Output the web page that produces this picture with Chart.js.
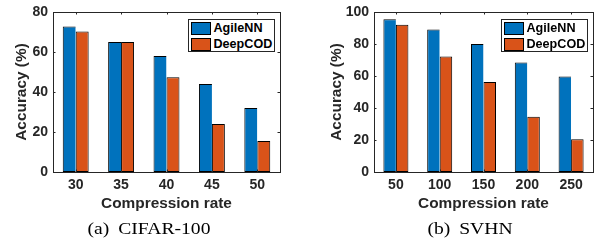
<!DOCTYPE html>
<html><head><meta charset="utf-8">
<script src="https://cdn.jsdelivr.net/npm/chart.js@4/dist/chart.umd.min.js"></script>
<style>
html,body{margin:0;padding:0;background:#fff;}
body{width:609px;height:250px;position:relative;overflow:hidden;}
canvas{position:absolute;top:0;}
#c1{left:0;}
#c2{left:305px;}
.legend{position:absolute;border:1px solid #262626;background:#fff;box-sizing:border-box;
  font:bold 12.6px "Liberation Sans",Arial,Helvetica,sans-serif;color:#000;}
.legend .row{position:absolute;left:2px;height:13px;white-space:nowrap;}
.legend .sw{position:absolute;left:0;top:0;width:20px;height:13px;box-sizing:border-box;border:1px solid #000;}
.legend .lb{position:absolute;left:23px;top:-1px;line-height:15px;}
.cap{position:absolute;top:218px;font:17.5px "Liberation Serif","Times New Roman",serif;color:#000;white-space:nowrap;transform:translateX(-50%) scaleX(1.12);line-height:20px;}
.cap span.t{margin-left:8px;}
</style></head>
<body>
<canvas id="c1" width="305" height="250"></canvas>
<canvas id="c2" width="304" height="250"></canvas>
<div class="cap" style="left:149px">(a)<span class="t">CIFAR-100</span></div>
<div class="cap" style="left:470px">(b)<span class="t">SVHN</span></div>
<script>
// ---- data ----
const seriesNames = ['AgileNN', 'DeepCOD'];
const seriesColors = ['#0072BD', '#D95319'];
const cifarRates = ['30', '35', '40', '45', '50'];
const cifarAgile = [72.8, 65, 58, 44, 32];
const cifarDeep = [70.3, 65, 47.4, 24, 15.5];
const cifarTicks = [0, 20, 40, 60, 80];
const svhnRates = ['50', '100', '150', '200', '250'];
const svhnAgile = [95.5, 89, 80, 68.4, 59.7];
const svhnDeep = [92, 72.2, 56.2, 34.5, 20.5];
const svhnTicks = [0, 20, 40, 60, 80, 100];
const xTitle = 'Compression rate';
const yTitle = 'Accuracy (%)';

const FAM = '"Liberation Sans", Arial, Helvetica, sans-serif';
const INK = '#262626';

const boxTicks = {
  id: 'boxTicks',
  afterDatasetsDraw(chart) {
    const {ctx, chartArea: a, scales: {x, y}} = chart;
    const L = 2.5;
    ctx.save();
    ctx.strokeStyle = INK; ctx.lineWidth = 1;
    ctx.beginPath();
    y.ticks.forEach((t, i) => {
      const py = Math.round(y.getPixelForTick(i)) + 0.5;
      ctx.moveTo(a.left, py); ctx.lineTo(a.left + L, py);
      ctx.moveTo(a.right, py); ctx.lineTo(a.right - L, py);
    });
    x.ticks.forEach((t, i) => {
      const px = Math.round(x.getPixelForTick(i)) + 0.5;
      ctx.moveTo(px, a.bottom); ctx.lineTo(px, a.bottom - L);
      ctx.moveTo(px, a.top); ctx.lineTo(px, a.top + L);
    });
    ctx.stroke();
    ctx.strokeRect(Math.round(a.left) + 0.5, Math.round(a.top) + 0.5,
                   Math.round(a.right - a.left), Math.round(a.bottom - a.top));
    ctx.restore();
  }
};

function makeChart(id, cats, agile, deep, ticks, yW, rightPad, yTitlePad) {
  const borders = [{left: 1, top: 1, bottom: 1, right: 0}, 1];
  const ds = [agile, deep].map((d, i) => ({
    label: seriesNames[i], data: d,
    backgroundColor: seriesColors[i], borderColor: '#000', borderWidth: borders[i],
    borderSkipped: false, categoryPercentage: 0.571, barPercentage: 1
  }));
  return new Chart(document.getElementById(id), {
    type: 'bar',
    data: {labels: cats, datasets: ds},
    options: {
      responsive: false, animation: false, devicePixelRatio: 1,
      layout: {padding: {left: 0, right: rightPad, top: 7, bottom: 0}},
      plugins: {legend: {display: false}, tooltip: {enabled: false}},
      scales: {
        x: {
          grid: {display: false, drawTicks: false, tickLength: 0},
          border: {display: false},
          ticks: {font: {family: FAM, size: 14, weight: 'bold', lineHeight: 1}, color: INK, padding: 6, maxRotation: 0},
          title: {display: true, text: xTitle, color: INK,
                  font: {family: FAM, size: 15.4, weight: 'bold', lineHeight: 1.2},
                  padding: {top: 0, bottom: 37}},
          afterFit(s) { s.height = 78; }
        },
        y: {
          min: ticks[0], max: ticks[ticks.length - 1],
          afterBuildTicks(s) { s.ticks = ticks.map(v => ({value: v})); },
          grid: {display: false, drawTicks: false, tickLength: 0},
          border: {display: false},
          ticks: {font: {family: FAM, size: 14, weight: 'bold', lineHeight: 1}, color: INK, padding: 5},
          title: {display: true, text: yTitle, color: INK,
                  font: {family: FAM, size: 15.4, weight: 'bold', lineHeight: 1.2},
                  padding: {top: yTitlePad, bottom: 0}},
          afterFit(s) { s.width = yW; }
        }
      }
    },
    plugins: [boxTicks]
  });
}

function addLegend(chart, offsetX) {
  const a = chart.chartArea;
  const W = 87, H = 33;
  const box = document.createElement('div');
  box.className = 'legend';
  box.style.left = (offsetX + a.right - 5.5 - W) + 'px';
  box.style.top = (a.top + 6.5) + 'px';
  box.style.width = W + 'px';
  box.style.height = H + 'px';
  chart.data.datasets.forEach((d, i) => {
    const row = document.createElement('div');
    row.className = 'row';
    row.style.top = (2 + i * 16.5) + 'px';
    const sw = document.createElement('div');
    sw.className = 'sw'; sw.style.background = d.backgroundColor;
    const lb = document.createElement('div');
    lb.className = 'lb'; lb.textContent = d.label;
    row.appendChild(sw); row.appendChild(lb);
    box.appendChild(row);
  });
  document.body.appendChild(box);
}

const ch1 = makeChart('c1', cifarRates, cifarAgile, cifarDeep, cifarTicks, 53, 25, 12.5);
const ch2 = makeChart('c2', svhnRates, svhnAgile, svhnDeep, svhnTicks, 69, 16, 22.5);
addLegend(ch1, 0);
addLegend(ch2, 305);
</script>
</body></html>
